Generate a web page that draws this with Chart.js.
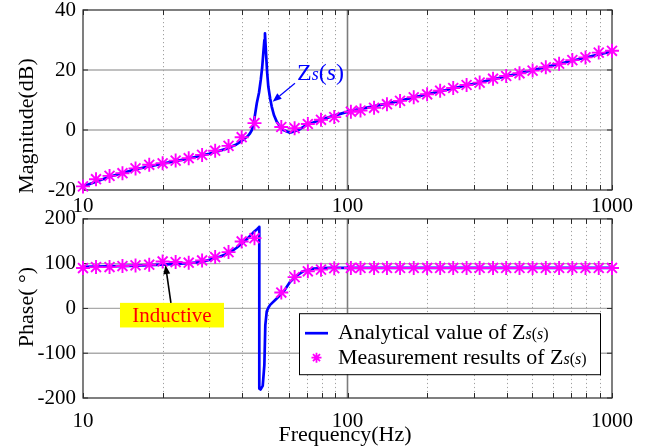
<!DOCTYPE html>
<html><head><meta charset="utf-8">
<script src="https://cdn.jsdelivr.net/npm/chart.js@4"></script>
<style>
html,body{margin:0;padding:0;background:#fff;}
#wrap{position:relative;width:652px;height:448px;overflow:hidden;}
canvas{position:absolute;left:0;}
#c1{top:0;}
#c2{top:210px;}
</style></head><body>
<div id="wrap"><canvas id="c1" width="652" height="222"></canvas><canvas id="c2" width="652" height="238"></canvas></div>
<script>
// ---- data ----
const measFreq = [10, 11.2, 12.6, 14.1, 15.8, 17.8, 20, 22.4, 25.1, 28.2, 31.6, 35.5, 39.8, 44.5,
  56.2, 63.1, 70.8, 79.4, 89.1, 103, 112, 126, 141, 158, 178, 200, 224, 251, 282, 316, 355, 398,
  447, 501, 562, 631, 708, 794, 891, 1000];
const measMag = [-18.8, -16.4, -15.3, -14.4, -12.8, -11.6, -11.1, -10.2, -9.4, -8.3, -6.9, -5.3, -2.4, 2.3,
  1.0, 0.6, 2.0, 3.4, 4.3, 6.1, 6.5, 7.4, 8.6, 9.7, 10.9, 11.9, 13.1, 14.0, 15.0, 15.8, 17.1, 18.0,
  18.9, 19.8, 20.9, 22.1, 23.3, 24.2, 25.8, 26.4];
const measPhase = [90.2, 92.4, 92.4, 94.7, 96.2, 97.7, 105, 103.6, 102.2, 107.3, 114.7, 125.8, 149.6, 157,
  35.5, 70, 83, 86.7, 90, 90.4, 90.4, 90.4, 90.4, 90.4, 90.4, 90.4, 90.4, 90.4, 90.4, 90.4, 90.4, 90.4,
  90.4, 90.4, 90.4, 90.4, 90.4, 90.4, 90.4, 90.4];

const lineMagFreq = [10, 12.6, 15.8, 20, 25.1, 30, 35, 38, 40, 42, 42.8, 43.5, 44.2, 45.4, 46.3, 47.0, 47.6,
  48.05, 48.5, 48.75, 49.0, 49.2, 49.7, 50.2, 51, 51.7, 52.7, 54, 55.5, 57.2, 60.6, 65.2, 70.1, 78.7,
  88.4, 102, 150, 200, 300, 500, 700, 1000];
const lineMag = [-18.8, -15.6, -13.1, -11.2, -9.5, -7.9, -6.2, -4.8, -3.5, -2.0, -1.1, 0.0, 2.3, 8.9, 12.5, 16.7, 21,
  25.6, 30, 32.2, 28.5, 25.6, 19, 14.4, 10.5, 7.8, 5.0, 2.8, 1.2, 0.0, -0.9, 0.0, 1.7, 3.3,
  4.7, 6.3, 9.3, 11.9, 15.4, 19.9, 23.0, 26.2];

const linePhaseFreq = [10, 15, 20, 25, 28.2, 30.6, 33, 35.5, 38, 39.7, 42, 44.1, 45.5, 46.4, 46.4, 46.9,
  47.8, 48.5, 48.9, 49.5, 50.2, 51, 54, 57.2, 60.6, 64.4, 68, 74.3, 85.7, 100, 1000];
const linePhase = [93, 95, 98, 101, 104, 110, 116, 123, 135, 144, 157, 170, 177, 182, -179, -181,
  -173, -126, -37, -7, 1.5, 8, 22, 37, 59, 74, 83, 89, 90.5, 90.8, 90.8];

const xTickValues = [10, 100, 1000];
const xTickLabels = ['10', '100', '1000'];
const minorFreqs = [20, 30, 40, 50, 60, 70, 80, 90, 200, 300, 400, 500, 600, 700, 800, 900];
const magTicks = [-20, 0, 20, 40];
const phaseTicks = [-200, -100, 0, 100, 200];

// ---- helpers ----
const SERIF = '"Liberation Serif", "Times New Roman", serif';
function pts(xs, ys) { return xs.map((v, i) => ({ x: v, y: ys[i] })); }

function arrow(ctx, x0, y0, x1, y1, color, w, hl, hw) {
  ctx.save();
  ctx.strokeStyle = color; ctx.fillStyle = color; ctx.lineWidth = w;
  const ang = Math.atan2(y1 - y0, x1 - x0);
  const bx = x1 - hl * Math.cos(ang), by = y1 - hl * Math.sin(ang);
  ctx.beginPath(); ctx.moveTo(x0, y0); ctx.lineTo(bx, by); ctx.stroke();
  ctx.beginPath();
  ctx.moveTo(x1, y1);
  ctx.lineTo(bx + hw * Math.sin(ang), by - hw * Math.cos(ang));
  ctx.lineTo(bx - hw * Math.sin(ang), by + hw * Math.cos(ang));
  ctx.closePath(); ctx.fill();
  ctx.restore();
}

function framePlugin(yTicks) {
  return {
    id: 'frame',
    beforeDatasetsDraw(chart) {
      const { ctx, chartArea: a, scales: { x, y } } = chart;
      ctx.save();
      ctx.strokeStyle = '#ababab'; ctx.lineWidth = 1.3;
      yTicks.forEach(v => {
        const py = y.getPixelForValue(v);
        if (py > a.top + 1 && py < a.bottom - 1) {
          ctx.beginPath(); ctx.moveTo(a.left, py); ctx.lineTo(a.right, py); ctx.stroke();
        }
      });
      ctx.strokeStyle = '#a0a0a0'; ctx.lineWidth = 1; ctx.setLineDash([1.2, 2.8]);
      minorFreqs.forEach(f => {
        const px = Math.round(x.getPixelForValue(f)) + 0.5;
        ctx.beginPath(); ctx.moveTo(px, a.top); ctx.lineTo(px, a.bottom); ctx.stroke();
      });
      ctx.setLineDash([]);
      ctx.strokeStyle = '#7c7c7c'; ctx.lineWidth = 1.6;
      xTickValues.forEach(f => {
        const px = x.getPixelForValue(f);
        if (px > a.left + 1 && px < a.right - 1) {
          ctx.beginPath(); ctx.moveTo(px, a.top); ctx.lineTo(px, a.bottom); ctx.stroke();
        }
      });
      ctx.strokeStyle = '#2a2a2a'; ctx.lineWidth = 1.2;
      ctx.strokeRect(a.left, a.top, a.right - a.left, a.bottom - a.top);
      ctx.lineWidth = 1;
      minorFreqs.concat(xTickValues).forEach(f => {
        const px = Math.round(x.getPixelForValue(f)) + 0.5;
        ctx.beginPath();
        ctx.moveTo(px, a.top); ctx.lineTo(px, a.top + 5);
        ctx.moveTo(px, a.bottom); ctx.lineTo(px, a.bottom - 5);
        ctx.stroke();
      });
      yTicks.forEach(v => {
        const py = y.getPixelForValue(v);
        ctx.beginPath();
        ctx.moveTo(a.left, py); ctx.lineTo(a.left + 5, py);
        ctx.moveTo(a.right, py); ctx.lineTo(a.right - 5, py);
        ctx.stroke();
      });
      ctx.restore();
    }
  };
}

function xScale(height, pad) {
  return {
    type: 'logarithmic', min: 10, max: 1000,
    grid: { display: false, drawTicks: false }, border: { display: false },
    afterBuildTicks: s => { s.ticks = xTickValues.map(v => ({ value: v })); },
    afterFit: s => { s.height = height; s.paddingLeft = 0; s.paddingRight = 0; },
    ticks: {
      autoSkip: false, maxRotation: 0, padding: pad, color: '#000',
      font: { family: SERIF, size: 21 },
      callback: v => { const i = xTickValues.indexOf(v); return i >= 0 ? xTickLabels[i] : ''; }
    }
  };
}
function yScale(min, max, ticks) {
  return {
    min: min, max: max,
    grid: { display: false, drawTicks: false }, border: { display: false },
    afterBuildTicks: s => { s.ticks = ticks.map(v => ({ value: v })); },
    afterFit: s => { s.width = 83; s.paddingTop = 0; s.paddingBottom = 0; },
    ticks: { padding: 7, color: '#000', font: { family: SERIF, size: 21 }, callback: v => String(v) }
  };
}

const common = {
  responsive: false, animation: false, devicePixelRatio: 1, events: [],
  plugins: { legend: { display: false }, tooltip: { enabled: false } }
};

const markerStyle = { pointStyle: 'star', pointRadius: 7, borderColor: '#ff00ff', backgroundColor: '#ff00ff', pointBorderWidth: 1.9 };
const lineStyle = { showLine: true, borderColor: '#0000ff', borderWidth: 2.7, pointRadius: 0, tension: 0, borderJoinStyle: 'round', borderCapStyle: 'round' };

// ---- magnitude chart ----
new Chart(document.getElementById('c1'), {
  type: 'scatter',
  data: {
    datasets: [
      Object.assign({ label: 'Measurement results of Zs(s)', data: pts(measFreq, measMag), order: 1, clip: false }, markerStyle),
      Object.assign({ label: 'Analytical value of Zs(s)', data: pts(lineMagFreq, lineMag), order: 2 }, lineStyle)
    ]
  },
  options: Object.assign({}, common, {
    layout: { padding: { left: 0, right: 40, top: 10, bottom: 0 } },
    scales: { x: xScale(32, 4), y: yScale(-20, 40, magTicks) }
  }),
  plugins: [framePlugin(magTicks), {
    id: 'annot1',
    afterDraw(chart) {
      const { ctx, scales: { x, y } } = chart;
      ctx.save();
      ctx.translate(27, 126); ctx.rotate(-Math.PI / 2);
      ctx.fillStyle = '#000'; ctx.font = '22px ' + SERIF; ctx.textAlign = 'center'; ctx.textBaseline = 'middle';
      ctx.fillText('Magnitude(dB)', 0, 0);
      ctx.restore();
      const tx = x.getPixelForValue(52.1), ty = y.getPixelForValue(9.4);
      const sx = x.getPixelForValue(63.3), sy = y.getPixelForValue(15.6);
      arrow(ctx, sx, sy, tx, ty, '#0000ff', 1.2, 9, 3.5);
      ctx.save();
      ctx.fillStyle = '#0000ff'; ctx.textBaseline = 'alphabetic';
      let cx = sx + 2; const by = sy - 3.5;
      const parts = [['Z', '24px ' + SERIF], ['s', 'italic 18px ' + SERIF], ['(', '24px ' + SERIF], ['s', 'italic 24px ' + SERIF], [')', '24px ' + SERIF]];
      parts.forEach(p => { ctx.font = p[1]; ctx.fillText(p[0], cx, by); cx += ctx.measureText(p[0]).width; });
      ctx.restore();
    }
  }]
});

// ---- phase chart ----
new Chart(document.getElementById('c2'), {
  type: 'scatter',
  data: {
    datasets: [
      Object.assign({ label: 'Measurement results of Zs(s)', data: pts(measFreq, measPhase), order: 1, clip: false }, markerStyle),
      Object.assign({ label: 'Analytical value of Zs(s)', data: pts(linePhaseFreq, linePhase), order: 2 }, lineStyle)
    ]
  },
  options: Object.assign({}, common, {
    layout: { padding: { left: 0, right: 40, top: 8, bottom: 0 } },
    scales: { x: xScale(50, 11), y: yScale(-200, 200, phaseTicks) }
  }),
  plugins: [framePlugin(phaseTicks), {
    id: 'annot2',
    afterDraw(chart) {
      const { ctx, chartArea: a, scales: { x, y } } = chart;
      ctx.save();
      ctx.fillStyle = '#000'; ctx.font = '22px ' + SERIF;
      ctx.save();
      ctx.translate(27, 97); ctx.rotate(-Math.PI / 2);
      ctx.textAlign = 'center'; ctx.textBaseline = 'middle';
      ctx.fillText('Phase( °)', 0, 0);
      ctx.restore();
      ctx.textAlign = 'center'; ctx.textBaseline = 'alphabetic';
      ctx.fillText('Frequency(Hz)', 345, 231);
      ctx.restore();

      const bx = x.getPixelForValue(21.7), byy = y.getPixelForValue(-15);
      ctx.save();
      ctx.fillStyle = '#ffff00';
      ctx.fillRect(bx - 52, byy - 12.3, 104, 24.6);
      ctx.fillStyle = '#ff0000'; ctx.font = '21px ' + SERIF; ctx.textAlign = 'center'; ctx.textBaseline = 'middle';
      ctx.fillText('Inductive', bx, byy + 1);
      ctx.restore();
      arrow(ctx, x.getPixelForValue(21.5), byy - 12.3, x.getPixelForValue(20.5), y.getPixelForValue(97), '#000', 1.6, 9, 3.5);

      const L = a.right - 313, T = a.top + 94.3, W = 301, H = 61;
      ctx.save();
      ctx.fillStyle = '#fff'; ctx.fillRect(L, T, W, H);
      ctx.strokeStyle = '#000'; ctx.lineWidth = 1; ctx.strokeRect(L + 0.5, T + 0.5, W, H);
      ctx.strokeStyle = '#0000ff'; ctx.lineWidth = 2.7;
      ctx.beginPath(); ctx.moveTo(L + 6, T + 20); ctx.lineTo(L + 29, T + 20); ctx.stroke();
      const mx = L + 17.5, my = T + 44.5, r = 5, d = r * Math.SQRT1_2;
      ctx.strokeStyle = '#ff00ff'; ctx.lineWidth = 1.8;
      ctx.beginPath();
      ctx.moveTo(mx - r, my); ctx.lineTo(mx + r, my);
      ctx.moveTo(mx, my - r); ctx.lineTo(mx, my + r);
      ctx.moveTo(mx - d, my - d); ctx.lineTo(mx + d, my + d);
      ctx.moveTo(mx - d, my + d); ctx.lineTo(mx + d, my - d);
      ctx.stroke();
      ctx.fillStyle = '#000'; ctx.textBaseline = 'alphabetic';
      const rows = [['Analytical value of ', T + 26], ['Measurement results of ', T + 51]];
      rows.forEach(rw => {
        let cx = L + 39;
        const segs = [[rw[0] + 'Z', '22px ' + SERIF], ['s', 'italic 16px ' + SERIF], ['(', '16px ' + SERIF], ['s', 'italic 16px ' + SERIF], [')', '16px ' + SERIF]];
        segs.forEach(sg => { ctx.font = sg[1]; ctx.fillText(sg[0], cx, rw[1]); cx += ctx.measureText(sg[0]).width; });
      });
      ctx.restore();
    }
  }]
});
</script>
</body></html>
